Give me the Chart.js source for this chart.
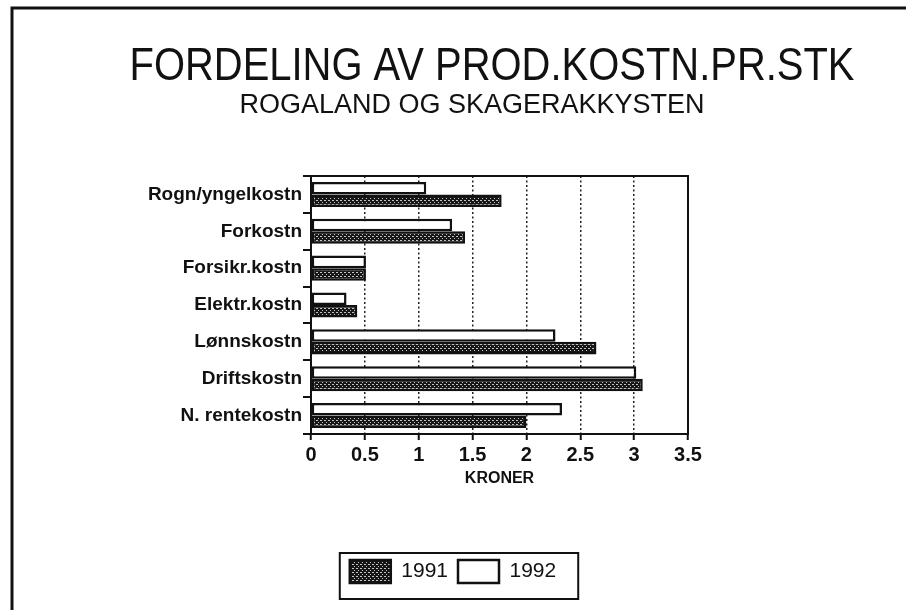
<!DOCTYPE html>
<html>
<head>
<meta charset="utf-8">
<title>Fordeling av prod.kostn.pr.stk</title>
<script src="https://cdn.jsdelivr.net/npm/chart.js@4.4.1/dist/chart.umd.min.js"></script>
<style>
    html, body { margin: 0; padding: 0; background: #fff; }
    #wrap { position: relative; width: 906px; height: 610px; }
</style>
</head>
<body>
<div id="wrap"><canvas id="grafico" width="906" height="610"></canvas></div>
<script>
// data lest av fra figuren (kroner per stk)
const kategorier = ['Rogn/yngelkostn', 'Forkostn', 'Forsikr.kostn', 'Elektr.kostn', 'Lønnskostn', 'Driftskostn', 'N. rentekostn'];
const verdier1991 = [1.77, 1.43, 0.51, 0.43, 2.65, 3.08, 2.0];
const verdier1992 = [1.07, 1.31, 0.51, 0.33, 2.27, 3.02, 2.33];
const aksetikker = [0, 0.5, 1, 1.5, 2, 2.5, 3, 3.5];
const tittel = 'FORDELING AV PROD.KOSTN.PR.STK';
const undertittel = 'ROGALAND OG SKAGERAKKYSTEN';
const akseTittel = 'KRONER';

const FONT = '"Liberation Sans", Arial, Helvetica, sans-serif';
const SVART = '#111';

// prikkete raster for 1991-stolpene
function lagMonster() {
    const c = document.createElement('canvas');
    c.width = 4;
    c.height = 4;
    const g = c.getContext('2d');
    g.fillStyle = '#161616';
    g.fillRect(0, 0, 4, 4);
    g.fillStyle = '#c4c4c4';
    g.fillRect(0, 0, 2, 1);
    g.fillRect(2, 2, 1, 1);
    return g.createPattern(c, 'repeat');
}

const rammePlugin = {
    id: 'ramme',
    beforeDraw(chart) {
        const c = chart.ctx;
        c.save();
        c.fillStyle = '#fff';
        c.fillRect(0, 0, chart.width, chart.height);

        // ytre ramme (venstre og topp)
        c.strokeStyle = SVART;
        c.lineWidth = 3;
        c.beginPath();
        c.moveTo(12, chart.height);
        c.lineTo(12, 8);
        c.lineTo(chart.width, 8);
        c.stroke();

        // tittel, litt sammentrykt som i originalen
        c.fillStyle = SVART;
        c.textAlign = 'center';
        c.textBaseline = 'alphabetic';
        c.font = '46px ' + FONT;
        const w = c.measureText(tittel).width;
        c.save();
        c.translate(492, 80);
        c.scale(725 / w, 1);
        c.fillText(tittel, 0, 0);
        c.restore();

        c.font = '27px ' + FONT;
        c.fillText(undertittel, 472, 113);
        c.restore();
    },
    afterDraw(chart) {
        const c = chart.ctx;
        const a = chart.chartArea;
        c.save();
        c.strokeStyle = SVART;
        c.lineWidth = 2;
        c.strokeRect(a.left, a.top, a.right - a.left, a.bottom - a.top);

        // boks rundt forklaringen
        const hb = chart.legend.legendHitBoxes;
        if (hb && hb.length) {
            const first = hb[0];
            const last = hb[hb.length - 1];
            const x1 = first.left - 10;
            const x2 = last.left + last.width + 22;
            const y1 = first.top - 7;
            const y2 = first.top + first.height + 16;
            c.lineWidth = 2;
            c.strokeRect(x1, y1, x2 - x1, y2 - y1);
        }
        c.restore();
    }
};

const monster = lagMonster();

new Chart(document.getElementById('grafico').getContext('2d'), {
    type: 'bar',
    data: {
        labels: kategorier,
        datasets: [
            {
                label: '1992',
                data: verdier1992,
                backgroundColor: '#fff',
                borderColor: SVART,
                borderWidth: 2.5,
                borderSkipped: false
            },
            {
                label: '1991',
                data: verdier1991,
                backgroundColor: monster,
                borderColor: SVART,
                borderWidth: 2.5,
                borderSkipped: false
            }
        ]
    },
    options: {
        indexAxis: 'y',
        responsive: false,
        animation: false,
        datasets: { bar: { categoryPercentage: 0.68, barPercentage: 1 } },
        layout: { padding: { top: 176, bottom: 17, left: 0, right: 0 } },
        plugins: {
            title: { display: false },
            tooltip: { enabled: false },
            legend: {
                position: 'bottom',
                reverse: true,
                labels: {
                    boxWidth: 41,
                    boxHeight: 23,
                    padding: 10,
                    color: SVART,
                    font: { family: FONT, size: 21 }
                }
            }
        },
        scales: {
            x: {
                min: 0,
                max: 3.5,
                afterBuildTicks: s => { s.ticks = aksetikker.map(v => ({ value: v })); },
                ticks: {
                    color: SVART,
                    padding: 3,
                    font: { family: FONT, size: 20, weight: 'bold' },
                    callback: v => String(v)
                },
                grid: { color: '#222', lineWidth: 1.5, tickLength: 6, tickColor: SVART, tickWidth: 2 },
                border: { color: SVART, width: 2, dash: [2, 2.5] },
                title: {
                    display: true,
                    text: akseTittel,
                    color: SVART,
                    font: { family: FONT, size: 16, weight: 'bold' },
                    padding: { top: 0, bottom: 62 }
                },
                afterFit: s => { s.height = 116; }
            },
            y: {
                ticks: {
                    color: SVART,
                    padding: 1,
                    font: { family: FONT, size: 19, weight: 'bold' }
                },
                grid: { drawOnChartArea: false, tickLength: 8, color: SVART, lineWidth: 2 },
                border: { color: SVART, width: 2 },
                afterFit: s => { s.width = 311; }
            },
            y2: {
                type: 'category',
                position: 'right',
                ticks: { display: false },
                grid: { display: false },
                border: { display: false },
                afterFit: s => { s.width = 218; }
            }
        }
    },
    plugins: [rammePlugin]
});
</script>
</body>
</html>
